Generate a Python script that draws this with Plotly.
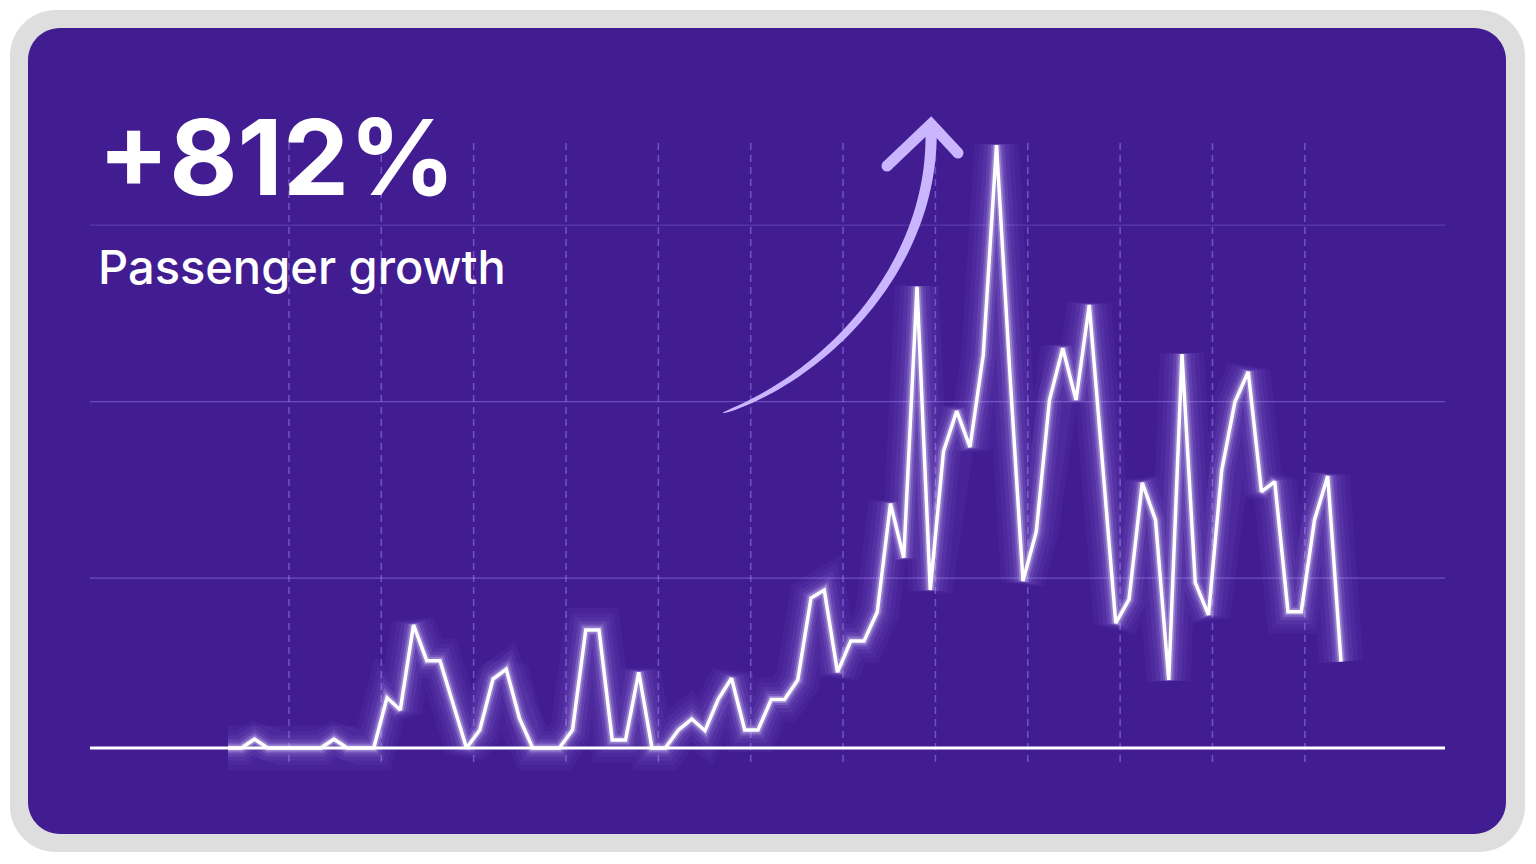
import numpy as np
import plotly.graph_objects as go

W, H = 1536, 864

# ---------------- data ----------------
periods = list(range(85))
passengers = [0, 0, 5, 0, 0, 0, 0, 0, 5, 0, 0, 0,
              28.5, 21.5, 69.7, 49.5, 49.5, 25, 0,
              10.2, 39.1, 44.6, 16.8, 0, 0, 0,
              10.2, 66.9, 66.9, 4.5, 4.5, 42.9, 0, 0,
              10.2, 16.4, 9.8, 27.6, 39.5, 10.2, 10.2, 27.5, 27.5, 38.5,
              85, 89.5, 43, 60.6, 60.6, 77, 138.5, 107.8, 261.4, 89.5,
              168.1, 190.9, 170.5, 222.7, 341.6, 213.6, 94.6, 122.5, 197.2, 226.5,
              197.2, 251, 161.3, 70.7, 84.2, 150.3, 129.2, 38.5, 223.2, 93.7,
              75.4, 157.5, 196.2, 213.2, 145.2, 150.9, 77.2, 77.2, 129.2, 154.1, 48.9]
grid_y = [96.3, 196.3, 296.3]
grid_y_alpha = [0.55, 0.5, 0.3]
grid_x = [4.6 + 6.97 * k for k in range(12)]
headline = "+812%"
subtitle = "Passenger growth"

# ---------------- styling / layout ----------------
PURPLE = "#421d92"
FRAME = "#dedede"
ARROW = "#c9b6ff"

# axis scaling (pixels per unit) and origin
SX, SY = 13.25, 1.765
X0PX, Y0PX = 228, 748
xr = [-X0PX / SX, (W - X0PX) / SX]
yr = [-(H - Y0PX) / SY, Y0PX / SY]
gx0, gx1 = (90 - X0PX) / SX, (1445 - X0PX) / SX
vy0, vy1 = (Y0PX - 762) / SY, (Y0PX - 140) / SY


def P(x, y):
    return f"{x / W:.5f},{1 - y / H:.5f}"


def rounded_rect(x0, y0, x1, y1, r):
    k = 0.5523 * r
    return (f"M {P(x0 + r, y0)} L {P(x1 - r, y0)} "
            f"C {P(x1 - r + k, y0)} {P(x1, y0 + r - k)} {P(x1, y0 + r)} "
            f"L {P(x1, y1 - r)} "
            f"C {P(x1, y1 - r + k)} {P(x1 - r + k, y1)} {P(x1 - r, y1)} "
            f"L {P(x0 + r, y1)} "
            f"C {P(x0 + r - k, y1)} {P(x0, y1 - r + k)} {P(x0, y1 - r)} "
            f"L {P(x0, y0 + r)} "
            f"C {P(x0, y0 + r - k)} {P(x0 + r - k, y0)} {P(x0 + r, y0)} Z")


shapes = []
shapes.append(dict(type="path", xref="paper", yref="paper", layer="below",
                   path=rounded_rect(10, 10, 1525, 852, 46),
                   fillcolor=FRAME, line=dict(width=0)))
shapes.append(dict(type="path", xref="paper", yref="paper", layer="below",
                   path=rounded_rect(28, 28, 1506, 834, 32),
                   fillcolor=PURPLE, line=dict(width=0)))
for gy, ga in zip(grid_y, grid_y_alpha):
    shapes.append(dict(type="line", xref="x", yref="y", layer="below",
                       x0=gx0, x1=gx1, y0=gy, y1=gy,
                       line=dict(color=f"rgba(150,120,235,{ga})", width=1.2)))
for gxv in grid_x:
    shapes.append(dict(type="line", xref="x", yref="y", layer="below",
                       x0=gxv, x1=gxv, y0=vy0, y1=vy1,
                       line=dict(color="rgba(165,135,250,0.5)", width=1.5, dash="7px,5px")))
# baseline
shapes.append(dict(type="line", xref="x", yref="y", layer="above",
                   x0=gx0, x1=gx1, y0=0, y1=0,
                   line=dict(color="white", width=3)))

# decorative arrow (tapered curved body + chevron head)
p0 = np.array([723.0, 413.0]); p1 = np.array([830.0, 375.0])
p2 = np.array([935.0, 262.0]); p3 = np.array([931.0, 128.0])
ts = np.linspace(0, 1, 60)
pts = ((1 - ts)[:, None] ** 3 * p0 + 3 * ((1 - ts) ** 2 * ts)[:, None] * p1
       + 3 * ((1 - ts) * ts ** 2)[:, None] * p2 + (ts ** 3)[:, None] * p3)
d = np.gradient(pts, axis=0)
n = np.stack([-d[:, 1], d[:, 0]], axis=1)
n /= np.linalg.norm(n, axis=1)[:, None]
wd = 0.8 + 10.5 * np.sqrt(ts)
left = pts + n * (wd / 2)[:, None]
right = pts - n * (wd / 2)[:, None]
poly = list(left) + list(right[::-1])
apath = "M " + " L ".join(P(x, y) for x, y in poly) + " Z"
shapes.append(dict(type="path", xref="paper", yref="paper", layer="above",
                   path=apath, fillcolor=ARROW, line=dict(width=0)))
head = [(887, 166), (931, 124), (958, 153)]
shapes.append(dict(type="path", xref="paper", yref="paper", layer="above",
                   path="M " + " L ".join(P(x, y) for x, y in head),
                   line=dict(color=ARROW, width=11)))
for (cx, cy) in (head[0], head[2]):
    shapes.append(dict(type="circle", xref="paper", yref="paper", layer="above",
                       x0=(cx - 5.5) / W, x1=(cx + 5.5) / W,
                       y0=1 - (cy + 5.5) / H, y1=1 - (cy - 5.5) / H,
                       fillcolor=ARROW, line=dict(width=0)))

fig = go.Figure()
# soft glow layers
for wdt, col in [(44, "rgba(180,150,255,0.05)"), (34, "rgba(185,155,255,0.06)"),
                 (25, "rgba(195,170,255,0.08)"), (17, "rgba(205,185,255,0.11)"),
                 (11, "rgba(220,205,255,0.18)"), (7, "rgba(235,225,255,0.3)")]:
    fig.add_trace(go.Scatter(x=periods, y=passengers, mode="lines",
                             line=dict(color=col, width=wdt), hoverinfo="skip",
                             showlegend=False))
fig.add_trace(go.Scatter(x=periods, y=passengers, mode="lines",
                         line=dict(color="white", width=3.5), showlegend=False,
                         name="Passengers"))

fig.add_annotation(text=headline, xref="paper", yref="paper",
                   x=96 / W, y=1 - 156 / H, xanchor="left", yanchor="middle",
                   showarrow=False,
                   font=dict(family="Inter", size=105, color="white", weight=700))
fig.add_annotation(text=subtitle, xref="paper", yref="paper",
                   x=96 / W, y=1 - 266 / H, xanchor="left", yanchor="middle",
                   showarrow=False,
                   font=dict(family="Inter", size=47, color="white", weight=500))

fig.update_layout(
    width=W, height=H, margin=dict(l=0, r=0, t=0, b=0),
    paper_bgcolor="white", plot_bgcolor="rgba(0,0,0,0)",
    xaxis=dict(visible=False, range=xr, domain=[0, 1], fixedrange=True),
    yaxis=dict(visible=False, range=yr, domain=[0, 1], fixedrange=True),
    shapes=shapes, showlegend=False,
)
fig.write_html("out.html", config={"displayModeBar": False})
